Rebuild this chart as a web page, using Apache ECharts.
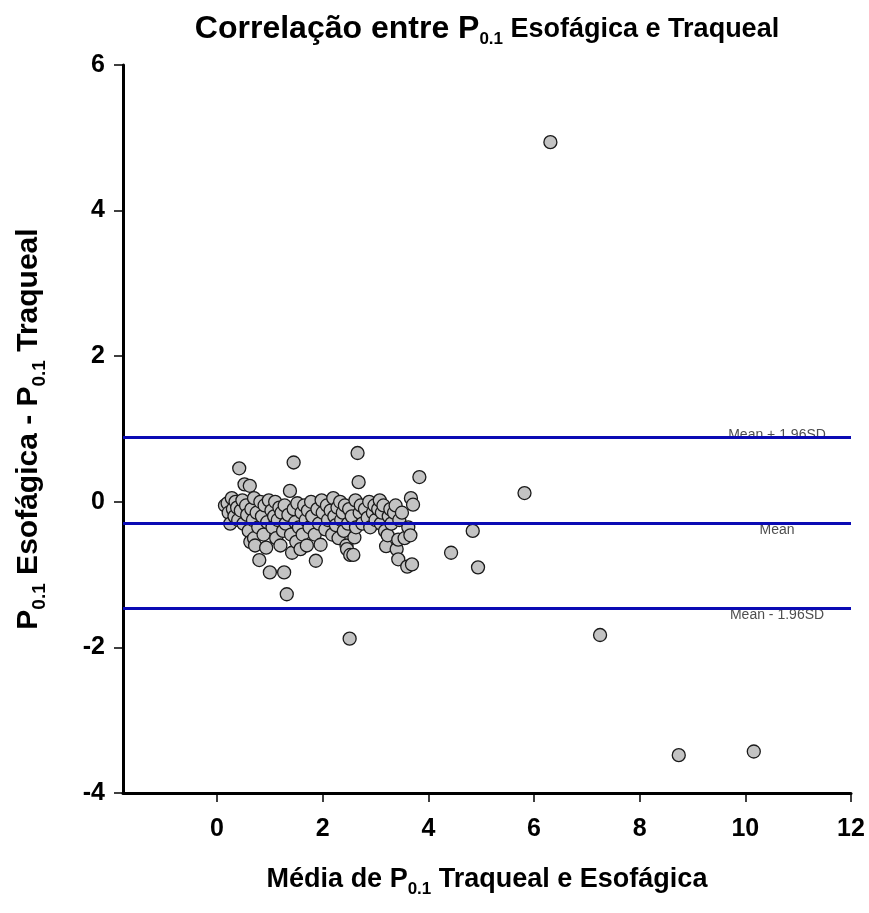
<!DOCTYPE html>
<html>
<head>
<meta charset="utf-8">
<script src="https://cdn.jsdelivr.net/npm/echarts@6/dist/echarts.min.js"></script>
<style>
html,body{margin:0;padding:0;background:#fff;}
#chart{width:869px;height:913px;}
</style>
</head>
<body>
<div id="chart"></div>
<script>
// Bland-Altman data: mean of the two measurements (x) and difference (y)
const meanVals = [
  0.15,0.20,0.22,0.25,0.28,0.30,0.33,0.35,0.38,0.40,0.42,
  0.45,0.48,0.50,0.52,0.55,0.57,0.60,0.62,0.63,0.65,0.68,0.70,0.70,
  0.72,0.75,0.78,0.80,0.82,0.85,0.88,0.90,0.93,0.95,0.98,1.00,
  1.03,1.05,1.08,1.10,1.12,1.15,1.18,1.20,1.22,1.25,1.27,1.28,1.30,
  1.32,1.35,1.38,1.40,1.42,1.45,1.45,1.48,1.50,1.52,1.55,1.58,1.60,
  1.62,1.65,1.68,1.70,1.72,1.75,1.78,1.80,1.85,1.87,1.90,
  1.93,1.96,1.98,2.00,2.05,2.08,2.10,2.15,2.18,2.20,
  2.22,2.25,2.28,2.30,2.33,2.35,2.38,2.40,2.42,2.45,2.46,2.48,
  2.50,2.51,2.52,2.55,2.58,2.60,2.62,2.63,2.66,2.68,2.70,2.72,2.75,
  2.80,2.85,2.88,2.90,2.95,2.98,3.00,3.05,3.08,3.10,
  3.12,3.15,3.18,3.20,3.23,3.25,3.28,3.30,3.35,3.38,
  3.40,3.43,3.43,3.45,3.50,3.55,3.60,3.62,3.66,3.67,3.69,3.71,3.83,
  4.43,4.84,4.94,5.82,6.31,7.25,8.74,10.16
];
const diffVals = [
  -0.05,-0.02,-0.15,-0.30,0.05,-0.10,-0.20,0.00,-0.08,-0.25,0.46,
  -0.12,0.02,-0.30,0.24,-0.05,-0.18,-0.40,0.22,-0.55,-0.10,-0.25,-0.50,0.05,
  -0.60,-0.15,-0.35,-0.80,0.00,-0.20,-0.45,-0.05,-0.63,-0.28,0.02,-0.97,
  -0.12,-0.35,-0.20,0.00,-0.50,-0.25,-0.08,-0.60,-0.15,-0.40,-0.97,-0.05,-0.30,
  -1.27,-0.18,0.15,-0.45,-0.70,0.54,-0.10,-0.28,-0.55,-0.02,-0.35,-0.65,-0.15,
  -0.45,-0.05,-0.25,-0.60,-0.12,-0.35,0.00,-0.20,-0.45,-0.81,-0.10,
  -0.30,-0.59,0.02,-0.15,-0.38,-0.05,-0.25,-0.12,-0.45,0.05,
  -0.20,-0.32,-0.08,-0.50,0.00,-0.25,-0.15,-0.40,-0.05,-0.60,-0.65,-0.30,
  -0.10,-1.88,-0.73,-0.20,-0.73,-0.49,0.02,-0.35,0.67,0.27,-0.15,-0.05,-0.30,
  -0.10,-0.22,0.00,-0.35,-0.15,-0.05,-0.25,-0.10,0.02,-0.30,
  -0.15,-0.05,-0.40,-0.61,-0.46,-0.20,-0.10,-0.30,-0.15,-0.05,
  -0.65,-0.52,-0.79,-0.25,-0.15,-0.50,-0.89,-0.35,-0.46,0.05,-0.86,-0.04,0.34,
  -0.70,-0.40,-0.90,0.12,4.94,-1.83,-3.48,-3.43
];
const refNames = ['Mean + 1.96SD', 'Mean', 'Mean - 1.96SD'];
const refValues = [0.875, -0.29, -1.455];
const xTicks = [0, 2, 4, 6, 8, 10, 12];
const yTicks = [-4, -2, 0, 2, 4, 6];
const xMin = -1.78, xMax = 12, yMin = -4, yMax = 6;
const refLabelX = 10.6;

const points = meanVals.map((v, i) => [v, diffVals[i]]);
const FONT = '"Liberation Sans",Arial,sans-serif';
const sub = (size, pad) => ({fontFamily: FONT, fontWeight: 'bold', fontSize: size, color: '#000', verticalAlign: 'bottom', padding: [pad, 0, 0, 0]});

const chart = echarts.init(document.getElementById('chart'), null, {renderer: 'canvas'});
chart.setOption({
  animation: false,
  backgroundColor: '#ffffff',
  title: {
    text: '{b|Correlação entre P}{s|0.1}{m| Esofágica e Traqueal}',
    left: 482, top: 6, textAlign: 'center',
    textStyle: {
      rich: {
        b: {fontFamily: FONT, fontWeight: 'bold', fontSize: 32, color: '#000'},
        m: {fontFamily: FONT, fontWeight: 'bold', fontSize: 27, color: '#000'},
        s: sub(17, 20)
      }
    }
  },
  grid: {left: 123, right: 18, top: 65, bottom: 120, containLabel: false},
  xAxis: {
    type: 'value', min: xMin, max: xMax,
    name: '{a|Média de P}{s|0.1}{a| Traqueal e Esofágica}',
    nameLocation: 'middle', nameGap: 68,
    nameTextStyle: {
      rich: {
        a: {fontFamily: FONT, fontWeight: 'bold', fontSize: 27, color: '#000'},
        s: sub(17, 20)
      }
    },
    axisLine: {show: true, onZero: false, lineStyle: {color: '#000', width: 3}},
    axisTick: {show: true, customValues: xTicks, length: 9, lineStyle: {color: '#000', width: 1.5}},
    axisLabel: {customValues: xTicks, margin: 24, fontFamily: FONT, fontWeight: 'bold', fontSize: 25, color: '#000'},
    splitLine: {show: false}
  },
  yAxis: {
    type: 'value', min: yMin, max: yMax, interval: 2,
    name: '{a|P}{s|0.1}{a| Esofágica - }{a|P}{s|0.1}{a| Traqueal}',
    nameLocation: 'middle', nameGap: 74, nameRotate: 90,
    nameTextStyle: {
      rich: {
        a: {fontFamily: FONT, fontWeight: 'bold', fontSize: 30, color: '#000'},
        s: sub(19, 22)
      }
    },
    axisLine: {show: true, onZero: false, lineStyle: {color: '#000', width: 3}},
    axisTick: {show: true, length: 9, lineStyle: {color: '#000', width: 1.5}},
    axisLabel: {margin: 18, fontFamily: FONT, fontWeight: 'bold', fontSize: 25, color: '#000', customValues: yTicks},
    splitLine: {show: false}
  },
  series: [
    {
      type: 'scatter',
      data: points,
      symbol: 'circle', symbolSize: 13,
      itemStyle: {color: '#c3c3c3', borderColor: '#1a1a1a', borderWidth: 1.3, opacity: 1},
      z: 3,
      markLine: {
        silent: true, symbol: 'none',
        lineStyle: {color: '#0a0ab4', width: 3, type: 'solid'},
        label: {show: false},
        data: refValues.map(v => ({yAxis: v}))
      }
    },
    {
      type: 'scatter',
      data: refValues.map((v, i) => ({
        value: [refLabelX, v], name: refNames[i],
        label: i === 0 ? {position: 'top', distance: -4} : {position: 'bottom', distance: 0}
      })),
      symbolSize: 0,
      silent: true,
      z: 4,
      label: {
        show: true,
        formatter: p => p.name,
        fontFamily: FONT, fontSize: 14, color: '#222'
      }
    }
  ]
});
</script>
</body>
</html>
